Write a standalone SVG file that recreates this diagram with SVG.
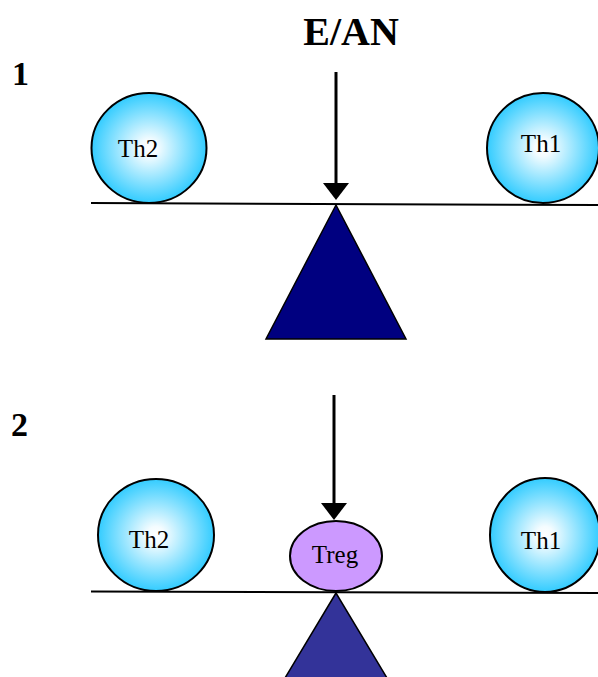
<svg xmlns="http://www.w3.org/2000/svg" width="598" height="677" viewBox="0 0 598 677">
<defs>
<radialGradient id="cell" cx="50%" cy="50%" r="50%">
<stop offset="0%" stop-color="#ffffff"/>
<stop offset="15%" stop-color="#f4fcff"/>
<stop offset="100%" stop-color="#33ccff"/>
</radialGradient>
</defs>
<style>
.cell{fill:url(#cell);stroke:#000;stroke-width:2}
.lbl{font-family:"Liberation Serif","Times New Roman",serif;font-size:25px;fill:#000;text-anchor:middle}
.num{font-family:"Liberation Serif","Times New Roman",serif;font-size:34px;font-weight:bold;fill:#000}
.beam{stroke:#000;stroke-width:2;fill:none}
.arrow{stroke:#000;stroke-width:3;fill:none}
.head{fill:#000}
</style>
<text class="num" x="12" y="85">1</text>
<text class="num" x="11" y="436">2</text>
<text id="title" x="351" y="45" font-family="Liberation Serif, Times New Roman, serif" font-size="40" font-weight="bold" text-anchor="middle">E/AN</text>
<g id="fulcrum1"><polygon points="336,205 266,339 406,339" fill="#000080" stroke="#000" stroke-width="1.5"/></g>
<g id="fulcrum2"><polygon points="336,593 282,683 390,683" fill="#333399" stroke="#000" stroke-width="1.5"/></g>
<g id="connectors">
<line class="beam" x1="91" y1="203" x2="598" y2="205"/>
<line class="beam" x1="91" y1="591.5" x2="598" y2="593"/>
<line class="arrow" x1="336" y1="72" x2="336" y2="186"/>
<polygon class="head" points="323,183 349,183 336,200"/>
<line class="arrow" x1="334" y1="395" x2="334" y2="506"/>
<polygon class="head" points="321,503 347,503 334,520"/>
</g>
<g id="th2-1"><ellipse class="cell" cx="149" cy="148" rx="57.5" ry="55"/><text class="lbl" x="138" y="157">Th2</text></g>
<g id="th1-1"><ellipse class="cell" cx="543" cy="148" rx="56" ry="55"/><text class="lbl" x="541" y="152">Th1</text></g>
<g id="th2-2"><ellipse class="cell" cx="156" cy="535" rx="58" ry="56"/><text class="lbl" x="149" y="548">Th2</text></g>
<g id="th1-2"><ellipse class="cell" cx="545" cy="535" rx="55" ry="57"/><text class="lbl" x="541" y="549">Th1</text></g>
<g id="treg"><ellipse cx="336" cy="556" rx="46" ry="35" fill="#cc99ff" stroke="#000" stroke-width="2"/><text class="lbl" x="335" y="563">Treg</text></g>
</svg>
